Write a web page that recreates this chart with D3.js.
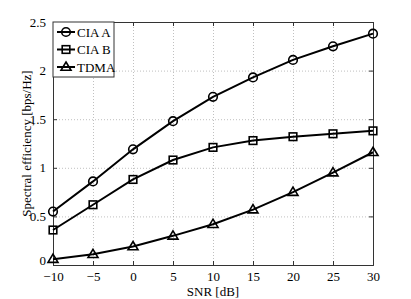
<!DOCTYPE html>
<html>
<head>
  <style>
    body { margin: 0; background: #fff; }
    svg text { font-family: "Liberation Serif", "DejaVu Serif", serif; }
    .grid line { stroke: #b0b0b0; stroke-dasharray: 1,2; stroke-width: 0.8; }
    .grid path { display: none; }
    .axis path, .axis line { stroke: #333; }
  </style>
</head>
<body>
  <svg id="chart" width="411" height="299"></svg>
  <script src="https://d3js.org/d3.v7.min.js"></script>
  <script>
    const snr = [-10, -5, 0, 5, 10, 15, 20, 25, 30];
    const ciaA = [0.55, 0.86, 1.19, 1.48, 1.73, 1.93, 2.11, 2.25, 2.38];
    const ciaB = [0.36, 0.62, 0.88, 1.08, 1.21, 1.28, 1.32, 1.35, 1.38];
    const tdma = [0.06, 0.11, 0.19, 0.30, 0.42, 0.57, 0.75, 0.95, 1.16];
    const xTicks = [-10, -5, 0, 5, 10, 15, 20, 25, 30];
    const yTicks = [0, 0.5, 1, 1.5, 2, 2.5];

    const series = [
      {name: "CIA A", values: ciaA, marker: "circle"},
      {name: "CIA B", values: ciaB, marker: "square"},
      {name: "TDMA", values: tdma, marker: "triangle"}
    ];

    const margin = {top: 22, right: 38, bottom: 34, left: 53};
    const width = 411 - margin.left - margin.right;
    const height = 299 - margin.top - margin.bottom;

    const svg = d3.select("#chart");
    const g = svg.append("g").attr("transform", `translate(${margin.left},${margin.top})`);

    const x = d3.scaleLinear().domain([-10, 30]).range([0, width]);
    const y = d3.scaleLinear().domain([0, 2.5]).range([height, 0]);

    // grid
    g.append("g").attr("class", "grid")
      .attr("transform", `translate(0,${height})`)
      .call(d3.axisBottom(x).tickValues(xTicks).tickSize(-height).tickFormat(""));
    g.append("g").attr("class", "grid")
      .call(d3.axisLeft(y).tickValues(yTicks).tickSize(-width).tickFormat(""));

    const fmt = d => String(d).replace("-", "\u2212");

    // axes, ticks inside
    g.append("g").attr("class", "axis")
      .attr("transform", `translate(0,${height})`)
      .call(d3.axisBottom(x).tickValues(xTicks).tickSize(-4).tickPadding(7).tickFormat(fmt));
    const yAxis = g.append("g").attr("class", "axis")
      .call(d3.axisLeft(y).tickValues(yTicks).tickSize(-4).tickPadding(7).tickFormat(d => d));
    // nudge the "0" label up so it clears "-10"
    yAxis.selectAll(".tick text").filter(d => d === 0).attr("dy", "-0.05em");
    g.append("g").attr("class", "axis")
      .call(d3.axisTop(x).tickValues(xTicks).tickSize(-4).tickFormat(""));
    g.append("g").attr("class", "axis")
      .attr("transform", `translate(${width},0)`)
      .call(d3.axisRight(y).tickValues(yTicks).tickSize(-4).tickFormat(""));
    g.selectAll(".axis")
      .attr("font-family", "Liberation Serif, serif").attr("font-size", 13);
    g.selectAll(".axis text").attr("fill", "#000");

    // labels
    svg.append("text")
      .attr("x", margin.left + width / 2).attr("y", 296)
      .attr("text-anchor", "middle").attr("font-size", 13)
      .text("SNR [dB]");
    svg.append("text")
      .attr("transform", `translate(31,${margin.top + height / 2}) rotate(-90)`)
      .attr("text-anchor", "middle").attr("font-size", 13)
      .text("Spectral efficiency [bps/Hz]");

    const line = d3.line().x((d, i) => x(snr[i])).y(d => y(d));

    function drawMarker(sel, type, cx, cy) {
      if (type === "circle") {
        sel.append("circle").attr("cx", cx).attr("cy", cy).attr("r", 4.3)
          .attr("fill", "none").attr("stroke", "#000").attr("stroke-width", 1.6);
      } else if (type === "square") {
        sel.append("rect").attr("x", cx - 3.8).attr("y", cy - 3.8)
          .attr("width", 7.6).attr("height", 7.6)
          .attr("fill", "none").attr("stroke", "#000").attr("stroke-width", 1.6);
      } else {
        const s = 5;
        sel.append("path")
          .attr("d", `M${cx},${cy - s}L${cx + s},${cy + s * 0.65}L${cx - s},${cy + s * 0.65}Z`)
          .attr("fill", "none").attr("stroke", "#000").attr("stroke-width", 1.6);
      }
    }

    series.forEach(s => {
      g.append("path").datum(s.values)
        .attr("fill", "none").attr("stroke", "#000").attr("stroke-width", 2)
        .attr("d", line);
      s.values.forEach((v, i) => drawMarker(g, s.marker, x(snr[i]), y(v)));
    });

    // legend
    const legend = g.append("g");
    legend.append("rect").attr("x", 0).attr("y", 0).attr("width", 61).attr("height", 55)
      .attr("fill", "#fff").attr("stroke", "#333").attr("stroke-width", 1);
    series.forEach((s, i) => {
      const ly = 10 + i * 17.5;
      legend.append("line").attr("x1", 4).attr("x2", 22).attr("y1", ly).attr("y2", ly)
        .attr("stroke", "#000").attr("stroke-width", 2);
      drawMarker(legend, s.marker, 13, ly);
      legend.append("text").attr("x", 24).attr("y", ly + 4.5).attr("font-size", 13).text(s.name);
    });
  </script>
</body>
</html>
